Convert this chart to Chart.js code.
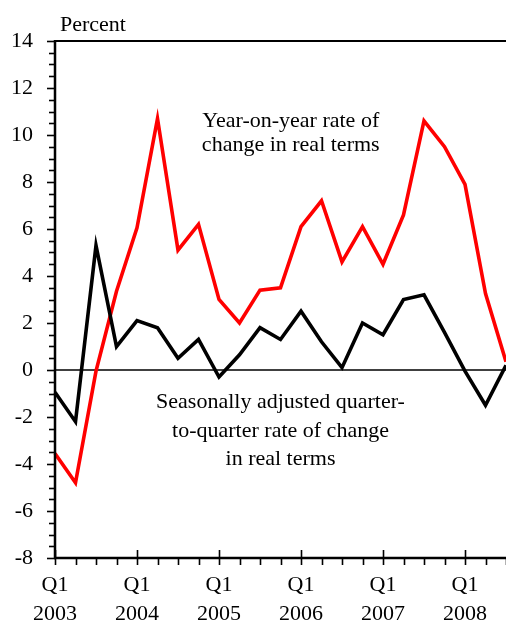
<!DOCTYPE html>
<html><head><meta charset="utf-8">
<script src="https://cdn.jsdelivr.net/npm/chart.js@4.4.1/dist/chart.umd.min.js"></script>
<style>html,body{margin:0;padding:0;background:#fff;overflow:hidden}canvas{display:block}</style>
</head><body>
<canvas id="c" width="506" height="622"></canvas>
<script>
// Quarters Q1 2003 .. Q3 2008
const quarters = ['2003Q1','2003Q2','2003Q3','2003Q4','2004Q1','2004Q2','2004Q3','2004Q4',
  '2005Q1','2005Q2','2005Q3','2005Q4','2006Q1','2006Q2','2006Q3','2006Q4',
  '2007Q1','2007Q2','2007Q3','2007Q4','2008Q1','2008Q2','2008Q3'];
// Year-on-year rate of change in real terms (red)
const yoyChange = [-3.55, -4.8, -0.05, 3.35, 6.05, 10.7, 5.1, 6.2, 3.0, 2.0, 3.4, 3.5,
  6.1, 7.2, 4.6, 6.1, 4.5, 6.6, 10.6, 9.5, 7.9, 3.25, 0.35];
// Seasonally adjusted quarter-to-quarter rate of change (black)
const qoqChange = [-0.95, -2.2, 5.3, 1.0, 2.1, 1.8, 0.5, 1.3, -0.3, 0.65, 1.8, 1.3,
  2.5, 1.2, 0.1, 2.0, 1.5, 3.0, 3.2, 1.6, -0.05, -1.5, 0.2];
const yearLabels = ['2003','2004','2005','2006','2007','2008'];
const yTickValues = [-8,-6,-4,-2,0,2,4,6,8,10,12,14];
const yAxisTitle = 'Percent';
const yoyNote = ['Year-on-year rate of', 'change in real terms'];
const qoqNote = ['Seasonally adjusted quarter-', 'to-quarter rate of change', 'in real terms'];

const FONT = '"Liberation Serif", "Times New Roman", serif';

const toPoints = arr => arr.map((v, i) => ({x: i, y: v}));

const framePlugin = {
  id: 'frame',
  beforeDatasetsDraw(chart) {
    const {ctx, chartArea: a, scales: {y}} = chart;
    ctx.save();
    ctx.strokeStyle = '#000';
    ctx.lineWidth = 1.3;
    const y0 = y.getPixelForValue(0);
    ctx.beginPath(); ctx.moveTo(a.left, y0); ctx.lineTo(a.right, y0); ctx.stroke();
    ctx.restore();
  },
  afterDatasetsDraw(chart) {
    const {ctx, chartArea: a, scales: {x, y}} = chart;
    ctx.save();
    ctx.strokeStyle = '#000';
    // top border
    ctx.lineWidth = 2;
    ctx.beginPath(); ctx.moveTo(a.left, a.top); ctx.lineTo(a.right, a.top); ctx.stroke();
    // left axis
    ctx.lineWidth = 2.5;
    ctx.beginPath(); ctx.moveTo(a.left, a.top - 1); ctx.lineTo(a.left, a.bottom + 1); ctx.stroke();
    // bottom axis
    ctx.beginPath(); ctx.moveTo(a.left - 1, a.bottom); ctx.lineTo(a.right, a.bottom); ctx.stroke();
    // y ticks
    ctx.lineWidth = 1.6;
    for (let v = y.min; v <= y.max + 1e-9; v += 0.5) {
      const py = Math.round(y.getPixelForValue(v)) + 0.5;
      const len = (Math.abs(v % 2) < 1e-9) ? 8 : 6;
      ctx.beginPath(); ctx.moveTo(a.left - len, py); ctx.lineTo(a.left, py); ctx.stroke();
    }
    // x ticks
    for (let q = 0; q < quarters.length; q++) {
      const px = Math.round(x.getPixelForValue(q)) + 0.5;
      ctx.beginPath();
      if (q % 4 === 0) { ctx.moveTo(px, a.bottom - 8); ctx.lineTo(px, a.bottom + 7); }
      else { ctx.moveTo(px, a.bottom); ctx.lineTo(px, a.bottom + 7); }
      ctx.stroke();
    }
    // texts
    ctx.fillStyle = '#000';
    ctx.font = '22px ' + FONT;
    ctx.textBaseline = 'middle';
    ctx.textAlign = 'left';
    ctx.fillText(yAxisTitle, a.left + 5, a.top - 16);
    ctx.textAlign = 'center';
    const yoyY = [10.6, 9.55];
    yoyNote.forEach((t, i) => ctx.fillText(t, x.getPixelForValue(11.5), y.getPixelForValue(yoyY[i])));
    const qoqY = [-1.38, -2.6, -3.8];
    qoqNote.forEach((t, i) => ctx.fillText(t, x.getPixelForValue(11.0), y.getPixelForValue(qoqY[i])));
    ctx.restore();
  }
};

new Chart(document.getElementById('c'), {
  type: 'line',
  data: {
    datasets: [
      {label: 'Quarter-to-quarter', data: toPoints(qoqChange), borderColor: '#000000',
       borderWidth: 3.6, pointRadius: 0, tension: 0, order: 0, clip: 4},
      {label: 'Year-on-year', data: toPoints(yoyChange), borderColor: '#ff0000',
       borderWidth: 3.6, pointRadius: 0, tension: 0, order: 1, clip: 4}
    ]
  },
  options: {
    responsive: false,
    animation: false,
    devicePixelRatio: 1,
    layout: {padding: {top: 41, right: 0, left: 0, bottom: 0}},
    plugins: {legend: {display: false}, tooltip: {enabled: false}},
    scales: {
      x: {
        type: 'linear', min: 0, max: quarters.length - 1,
        afterFit(s) { s.height = 64; },
        afterBuildTicks(s) { s.ticks = yearLabels.map((_, i) => ({value: i * 4})); },
        grid: {display: false}, border: {display: false},
        ticks: {autoSkip: false, maxRotation: 0, minRotation: 0, padding: 5, color: '#000',
          font: {family: FONT, size: 22, lineHeight: 1.32},
          callback: v => ['Q1', yearLabels[Math.round(v / 4)]]}
      },
      y: {
        min: -8, max: 14,
        afterFit(s) { s.width = 55; },
        afterBuildTicks(s) { s.ticks = yTickValues.map(v => ({value: v})); },
        grid: {display: false}, border: {display: false},
        ticks: {padding: 14, color: '#000', font: {family: FONT, size: 22},
          callback: v => String(v)}
      }
    }
  },
  plugins: [framePlugin]
});
</script>
</body></html>
